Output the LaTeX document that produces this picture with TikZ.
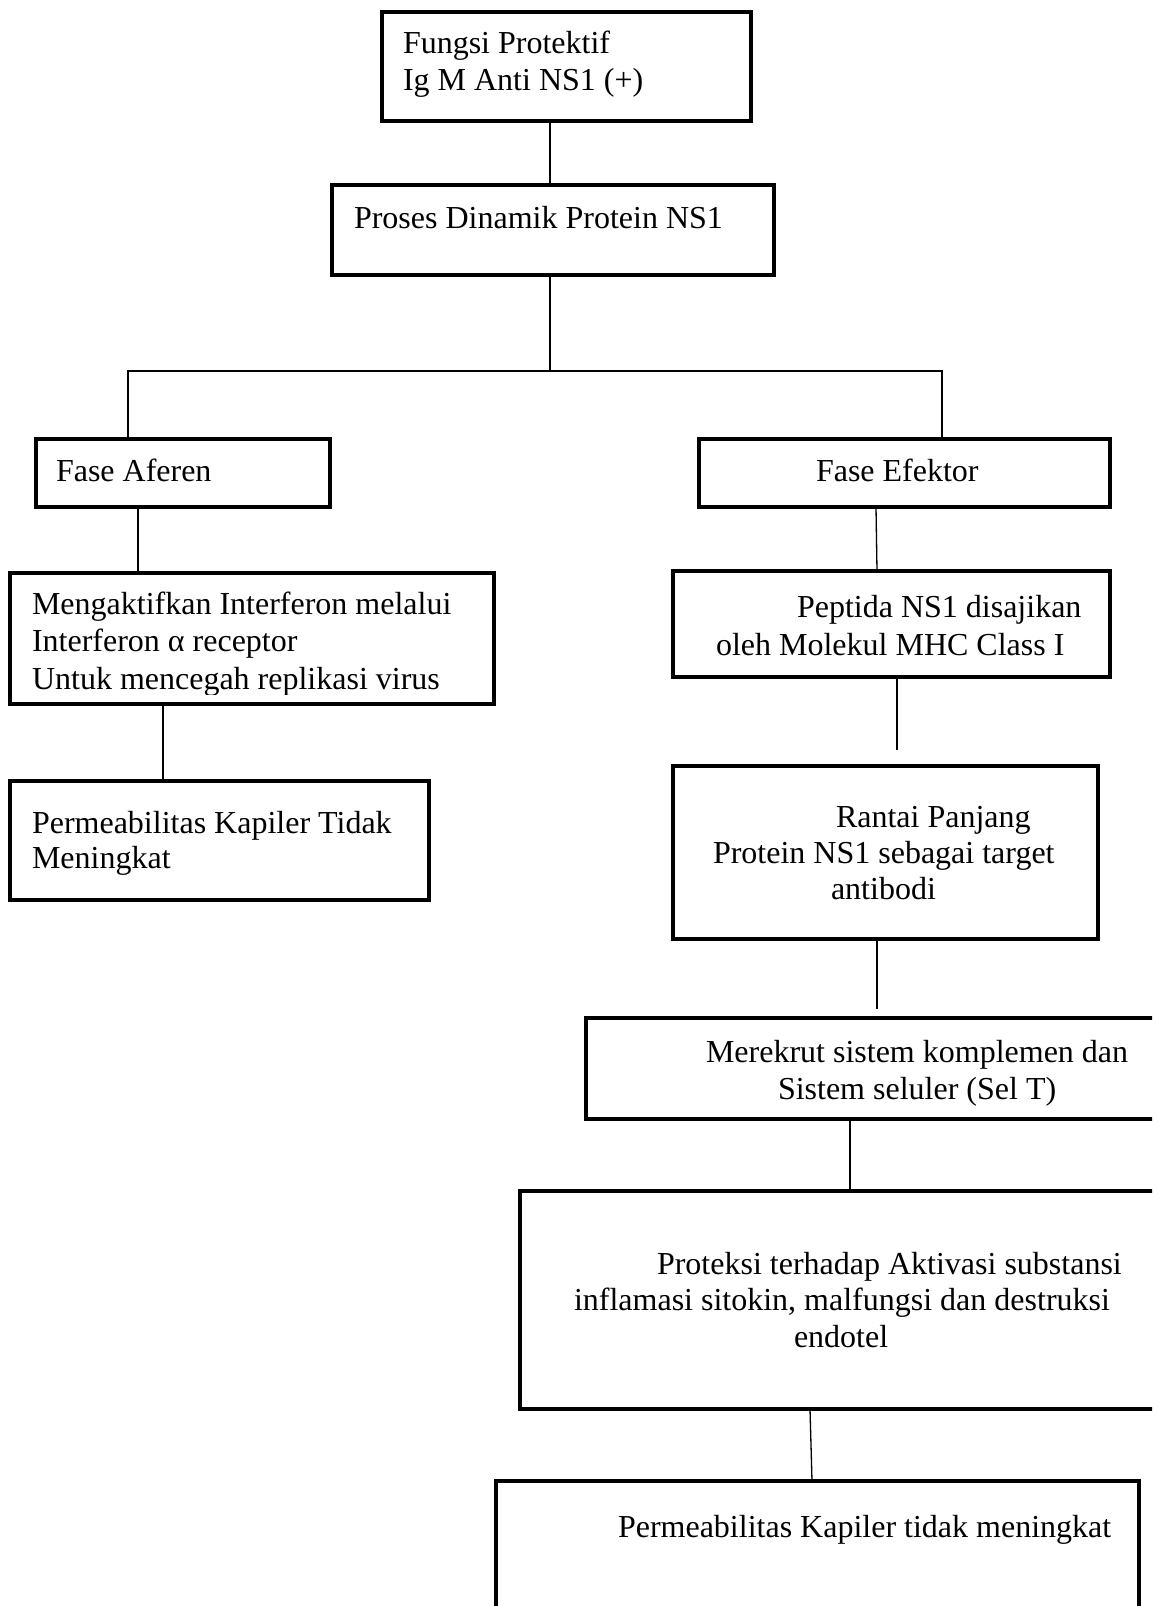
\documentclass[tikz,border=0pt]{standalone}
\usepackage{fontspec}
\setmainfont{Liberation Serif}
\begin{document}
\begin{tikzpicture}[x=1pt,y=-1pt,
  box/.style={draw=black, line width=4pt, fill=white, rectangle, inner sep=0pt, outer sep=0pt},
  txt/.style={anchor=base west, inner sep=0pt, outer sep=0pt, font=\fontsize{32}{37}\selectfont},
  link/.style={draw=black, line width=1.3pt}]
\useasboundingbox (0,0) rectangle (1152,1606);
\clip (0,0) rectangle (1152,1606);

% boxes
\node[box, anchor=north west, minimum width=369pt, minimum height=109pt] (top) at (382,12) {};
\node[box, anchor=north west, minimum width=442pt, minimum height=90pt] (proc) at (332,185) {};
\node[box, anchor=north west, minimum width=294pt, minimum height=68pt] (aferen) at (36,439) {};
\node[box, anchor=north west, minimum width=411pt, minimum height=68pt] (efektor) at (699,439) {};
\node[box, anchor=north west, minimum width=484pt, minimum height=131pt] (interf) at (10,573) {};
\node[box, anchor=north west, minimum width=419pt, minimum height=119pt] (perm1) at (10,781) {};
\node[box, anchor=north west, minimum width=437pt, minimum height=106pt] (peptida) at (673,571) {};
\node[box, anchor=north west, minimum width=425pt, minimum height=173pt] (rantai) at (673,766) {};
\node[box, anchor=north west, minimum width=600pt, minimum height=101pt] (merekrut) at (586,1018) {};
\node[box, anchor=north west, minimum width=660pt, minimum height=218pt] (proteksi) at (520,1191) {};
\node[box, anchor=north west, minimum width=643pt, minimum height=160pt] (perm2) at (496,1481) {};

% texts
\node[txt] (t1a) at (403,53) {Fungsi Protektif};
\node[txt] (t1b) at (403,90) {Ig M Anti NS1 (+)};
\node[txt] (t2) at (354,228) {Proses Dinamik Protein NS1};
\node[txt] (t3) at (56,481) {Fase Aferen};
\node[txt] (t4) at (816,481) {Fase Efektor};
\begin{scope}
  % the last line of this text frame is cut off at its lower edge
  \clip (14,577) rectangle (490,694);
  \node[txt] (t5a) at (32,614) {Mengaktifkan Interferon melalui};
  \node[txt] (t5b) at (32,651) {Interferon α receptor};
  \node[txt] (t5c) at (32,689) {Untuk mencegah replikasi virus};
\end{scope}
\node[txt] (t6a) at (32,833) {Permeabilitas Kapiler Tidak};
\node[txt] (t6b) at (32,868) {Meningkat};
\node[txt] (t7a) at (797,617) {Peptida NS1 disajikan};
\node[txt] (t7b) at (716,655) {oleh Molekul MHC Class I};
\node[txt] (t8a) at (836,827) {Rantai Panjang};
\node[txt] (t8b) at (713,863) {Protein NS1 sebagai target};
\node[txt] (t8c) at (831,899) {antibodi};
\node[txt] (t9a) at (706,1062) {Merekrut sistem komplemen dan};
\node[txt] (t9b) at (778,1099) {Sistem seluler (Sel T)};
\node[txt] (t10a) at (657,1274) {Proteksi terhadap Aktivasi substansi};
\node[txt] (t10b) at (574,1310) {inflamasi sitokin, malfungsi dan destruksi};
\node[txt] (t10c) at (794,1347) {endotel};
\node[txt] (t11) at (618,1537) {Permeabilitas Kapiler tidak meningkat};

% connectors
\coordinate (c1) at (550,0);
\coordinate (split) at (550,371);
\coordinate (lft) at (128,371);
\coordinate (rgt) at (942,371);
\coordinate (pepEnd) at (897,750);
\coordinate (ranEnd) at (877,1009);
\draw[link] (top.south -| c1) -- (proc.north -| c1);
\draw[link] (proc.south -| split) -- (split);
\draw[link] (aferen.north -| lft) -- (lft) -- (rgt) -- (efektor.north -| rgt);
\draw[link] (aferen.south -| 138,0) -- (interf.north -| 138,0);
\draw[link] (interf.south -| 163,0) -- (perm1.north -| 163,0);
\draw[link] (efektor.south -| 876,0) -- (peptida.north -| 877,0);
\draw[link] (peptida.south -| pepEnd) -- (pepEnd);
\draw[link] (rantai.south -| ranEnd) -- (ranEnd);
\draw[link] (merekrut.south -| 850,0) -- (proteksi.north -| 850,0);
\draw[link] (proteksi.south -| 810,0) -- (perm2.north -| 812,0);
\end{tikzpicture}
\end{document}
